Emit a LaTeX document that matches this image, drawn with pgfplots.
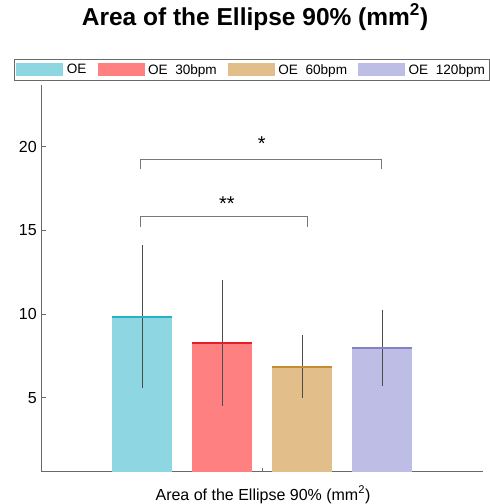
\documentclass[border=0pt]{standalone}
\usepackage{pgfplots}
\pgfplotsset{compat=1.18}
\usepackage{fontspec}
\setmainfont{Liberation Sans}
\definecolor{cfill}{RGB}{141,214,226}
\definecolor{cline}{RGB}{40,178,192}
\definecolor{rfill}{RGB}{255,128,128}
\definecolor{rline}{RGB}{230,30,40}
\definecolor{ofill}{RGB}{226,190,138}
\definecolor{oline}{RGB}{198,140,50}
\definecolor{pfill}{RGB}{189,189,230}
\definecolor{pline}{RGB}{130,130,200}
\definecolor{errc}{RGB}{75,75,75}
\definecolor{axc}{RGB}{105,105,105}
\definecolor{brc}{RGB}{120,120,120}
\begin{document}
\begin{tikzpicture}
\path[use as bounding box] (-41.7pt,-32.3pt) rectangle (448.3pt,471.7pt);
\begin{axis}[
  scale only axis,
  width=441pt, height=386.7pt,
  xmin=-0.256, xmax=5.256,
  ymin=0.57, ymax=23.7,
  axis x line*=bottom, axis y line*=left,
  axis line style={color=axc, line width=1pt},
  tick style={color=axc, line width=1pt},
  tick align=inside,
  major tick length=4pt,
  xtick={2.5}, xticklabels={},
  ytick={5,10,15,20},
  /pgf/number format/assume math mode=true,
  yticklabel style={font=\fontsize{16}{19}\selectfont, xshift=-1.5pt},
  title={\textbf{Area of the Ellipse 90\% (mm\textsuperscript{2})}},
  title style={font=\fontsize{24.5}{29}\selectfont, at={(0.4837,1.1396)}, anchor=base},
  xlabel={Area of the Ellipse 90\% (mm\textsuperscript{2})},
  xlabel style={font=\fontsize{16}{19}\selectfont, at={(0.5018,-0.0732)}, anchor=base},
  legend columns=-1,
  legend style={at={(-0.0628,1.0672)}, anchor=north west,
    draw=axc, line width=0.8pt, inner xsep=2pt, inner ysep=2.8pt,
    font=\fontsize{13.6}{16}\selectfont,
    /tikz/every even column/.append style={column sep=9pt}},
  legend image code/.code={\fill[#1] (0pt,-6.5pt) rectangle (47pt,6.5pt); \path (48.5pt,0pt);},
  error bars/error bar style={color=errc, line width=1.2pt},
]
\addplot[ybar, bar width=60pt, bar shift=0pt, fill=cfill, draw=none,
  error bars/.cd, y dir=both, y explicit, error mark=none]
  coordinates {(1,9.84) +- (0,4.29)};
\addlegendentry{OE}
\addplot[ybar, bar width=60pt, bar shift=0pt, fill=rfill, draw=none,
  error bars/.cd, y dir=both, y explicit, error mark=none]
  coordinates {(2,8.28) +- (0,3.76)};
\addlegendentry{OE\ \ 30bpm}
\addplot[ybar, bar width=60pt, bar shift=0pt, fill=ofill, draw=none,
  error bars/.cd, y dir=both, y explicit, error mark=none]
  coordinates {(3,6.85) +- (0,1.88)};
\addlegendentry{OE\ \ 60bpm}
\addplot[ybar, bar width=60pt, bar shift=0pt, fill=pfill, draw=none,
  error bars/.cd, y dir=both, y explicit, error mark=none]
  coordinates {(4,7.98) +- (0,2.27)};
\addlegendentry{OE\ \ 120bpm}
% top lines of bars
\addplot[forget plot, only marks, mark=-, mark size=30pt, mark options={line width=2pt, color=cline}] coordinates {(1,9.84)};
\addplot[forget plot, only marks, mark=-, mark size=30pt, mark options={line width=2pt, color=rline}] coordinates {(2,8.28)};
\addplot[forget plot, only marks, mark=-, mark size=30pt, mark options={line width=2pt, color=oline}] coordinates {(3,6.85)};
\addplot[forget plot, only marks, mark=-, mark size=30pt, mark options={line width=2pt, color=pline}] coordinates {(4,7.98)};
% significance brackets
\addplot[forget plot, sharp plot, no marks, color=brc, line width=1pt] coordinates {(0.985,18.65) (0.985,19.25) (3.985,19.25) (3.985,18.65)};
\addplot[forget plot, sharp plot, no marks, color=brc, line width=1pt] coordinates {(0.985,15.18) (0.985,15.84) (3.07,15.84) (3.07,15.18)};
\node[anchor=base, font=\fontsize{20}{24}\selectfont, inner sep=0pt] at (axis cs:2.494,19.8) {*};
\node[anchor=base, font=\fontsize{20}{24}\selectfont, inner sep=0pt] at (axis cs:2.06,16.2) {**};
\end{axis}
\end{tikzpicture}
\end{document}
